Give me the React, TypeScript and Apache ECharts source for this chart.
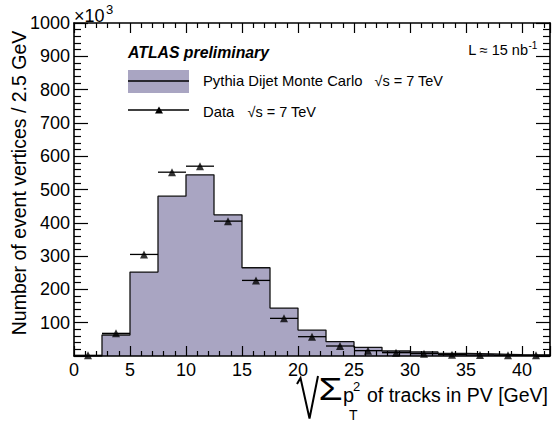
import React, { useEffect, useRef } from "react";
import * as echarts from "echarts";

// Histogram bins (GeV): lower edges, width 2.5 GeV
const binLowEdges = [0, 2.5, 5, 7.5, 10, 12.5, 15, 17.5, 20, 22.5, 25, 27.5, 30, 32.5, 35, 37.5, 40];
const binWidth = 2.5;
// Pythia Dijet Monte Carlo (x10^3 vertices)
const mcCounts = [0, 63, 252, 480, 544, 424, 265, 144, 78, 43, 26, 15, 12, 8, 6, 4, 3];
// Data (x10^3 vertices)
const dataCounts = [2, 68, 305, 552, 570, 405, 227, 113, 58, 30, 16, 10, 7, 4, 3, 2, 2];

const FONT = "'Liberation Sans', Arial, Helvetica, sans-serif";
const FILL = "#a9a5c2";

export default function App() {
  const ref = useRef<HTMLDivElement>(null);
  useEffect(() => {
    const chart = echarts.init(ref.current!, null, { renderer: "svg" });
    const mcLine: number[][] = binLowEdges.map((x, i) => [x, mcCounts[i]]);
    mcLine.push([binLowEdges[binLowEdges.length - 1] + binWidth, mcCounts[mcCounts.length - 1]]);
    const dataPts = binLowEdges.map((x, i) => [x + binWidth / 2, dataCounts[i]]);

    const tickLine = { color: "#000", width: 1.2 };
    const axisLine = { show: true, onZero: false, lineStyle: { color: "#000", width: 1.6 } };
    const xCommon = {
      type: "value",
      min: 0,
      max: 42.5,
      interval: 5,
      z: 10,
      axisLine,
      axisTick: { show: true, inside: true, length: 10, lineStyle: tickLine },
      minorTick: { show: true, splitNumber: 5, length: 5, lineStyle: tickLine },
      splitLine: { show: false },
      minorSplitLine: { show: false },
    };
    const yCommon = {
      type: "value",
      min: 0,
      max: 1000,
      interval: 100,
      z: 10,
      axisLine,
      axisTick: { show: true, inside: true, length: 14, lineStyle: tickLine },
      minorTick: { show: true, splitNumber: 5, length: 7, lineStyle: tickLine },
      splitLine: { show: false },
      minorSplitLine: { show: false },
    };

    const txt = (text: string, x: number, y: number, size: number, extra: any = {}, el: any = {}) => ({
      type: "text",
      x,
      y,
      silent: true,
      z: 20,
      ...el,
      style: {
        text,
        x: 0,
        y: 0,
        fill: "#000",
        fontSize: size,
        fontFamily: FONT,
        align: "left",
        verticalAlign: "middle",
        ...extra,
      },
    });

    chart.setOption({
      animation: false,
      backgroundColor: "#fff",
      grid: { left: 74, right: 2, top: 23, bottom: 70, containLabel: false },
      xAxis: [
        {
          ...xCommon,
          position: "bottom",
          axisLabel: { fontSize: 18, color: "#000", fontFamily: FONT, margin: 5, showMaxLabel: false },
        },
        { ...xCommon, position: "top", axisLabel: { show: false } },
      ],
      yAxis: [
        {
          ...yCommon,
          position: "left",
          axisLabel: {
            fontSize: 18,
            color: "#000",
            fontFamily: FONT,
            margin: 4,
            formatter: (v: number) => (v === 0 ? "" : String(v)),
          },
        },
        { ...yCommon, position: "right", axisLabel: { show: false } },
      ],
      series: [
        {
          type: "line",
          xAxisIndex: 0,
          yAxisIndex: 0,
          data: mcLine,
          step: "end",
          symbol: "none",
          lineStyle: { color: "#111", width: 1.3 },
          areaStyle: { color: FILL, opacity: 1 },
          z: 2,
        },
        {
          type: "custom",
          xAxisIndex: 0,
          yAxisIndex: 0,
          data: dataPts,
          z: 3,
          renderItem: (params: any, api: any) => {
            const x = api.value(0);
            const y = api.value(1);
            const a = api.coord([x - binWidth / 2, y]);
            const b = api.coord([x + binWidth / 2, y]);
            return {
              type: "line",
              shape: { x1: a[0], y1: a[1], x2: b[0], y2: b[1] },
              style: { stroke: "#000", lineWidth: 1.3 },
            };
          },
        },
        {
          type: "scatter",
          xAxisIndex: 0,
          yAxisIndex: 0,
          data: dataPts,
          symbol: "triangle",
          symbolSize: 8,
          itemStyle: { color: "#000" },
          z: 4,
        },
      ],
      graphic: [
        // y axis title
        txt("Number of event vertices / 2.5 GeV", 19, 183, 19.5, { align: "center" }, { rotation: Math.PI / 2 }),
        // x10^3
        txt("×10", 74, 16, 18),
        txt("3", 106, 9, 13),
        // ATLAS preliminary
        txt("ATLAS preliminary", 128, 52, 15.8, { fontWeight: "bold", fontStyle: "italic" }),
        // Luminosity
        txt("L ≈ 15 nb", 528, 50, 14.5, { align: "right" }),
        txt("-1", 528.5, 45, 10),
        // legend MC
        { type: "rect", shape: { x: 128, y: 70, width: 61, height: 23 }, style: { fill: FILL }, z: 20 },
        { type: "line", shape: { x1: 128, y1: 81, x2: 189, y2: 81 }, style: { stroke: "#000", lineWidth: 1.5 }, z: 21 },
        txt("Pythia Dijet Monte Carlo", 203, 81, 14.8),
        txt("√s = 7 TeV", 443, 81, 14.5, { align: "right" }),
        // legend Data
        { type: "line", shape: { x1: 128, y1: 110, x2: 189, y2: 110 }, style: { stroke: "#000", lineWidth: 1.5 }, z: 21 },
        {
          type: "polygon",
          shape: { points: [[155, 113.5], [163, 113.5], [159, 106.5]] },
          style: { fill: "#000" },
          z: 22,
        },
        txt("Data", 203, 112, 14.8),
        txt("√s = 7 TeV", 316, 112, 14.5, { align: "right" }),
        // x axis title: sqrt(sum pT^2) of tracks in PV [GeV]
        {
          type: "polyline",
          shape: { points: [[297, 384], [300.5, 378], [309.5, 418.5], [318, 376]] },
          style: { stroke: "#000", lineWidth: 2, fill: null },
          z: 20,
        },
        txt("Σ", 330.5, 389, 32, { align: "center" }, { scaleX: 1.22 }),
        txt("p", 343, 395, 20),
        txt("2", 353, 386, 13),
        txt("T", 349, 414.5, 14),
        txt("of tracks in PV [GeV]", 548, 395, 19.5, { align: "right" }),
      ],
    });
    return () => chart.dispose();
  }, []);
  return <div ref={ref} style={{ position: "fixed", left: 0, top: 0, width: 552, height: 426 }} />;
}
